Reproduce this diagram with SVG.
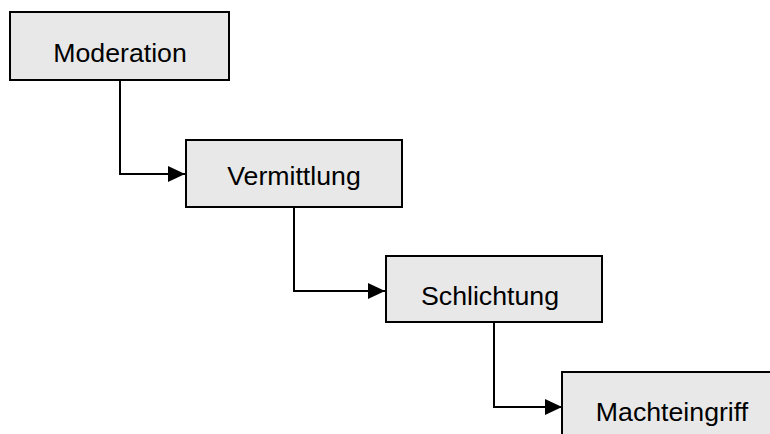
<svg xmlns="http://www.w3.org/2000/svg" width="770" height="434" viewBox="0 0 770 434">
  <style>
    .box { fill: #e8e8e8; stroke: #000; stroke-width: 2; }
    .label { font-family: "Liberation Sans", Arial, sans-serif; font-size: 26.7px; fill: #000; text-anchor: middle; }
    .link { fill: none; stroke: #000; stroke-width: 2; }
  </style>
  <defs>
    <marker id="arrow" markerUnits="userSpaceOnUse" markerWidth="18" markerHeight="16" refX="17" refY="8" orient="auto">
      <path d="M0,0 L17,8 L0,16 Z" fill="#000"/>
    </marker>
  </defs>
  <rect width="770" height="434" fill="#fff"/>

  <g id="connectors">
    <path class="link" d="M120,80 V174 H185" marker-end="url(#arrow)"/>
    <path class="link" d="M294,207 V291 H385" marker-end="url(#arrow)"/>
    <path class="link" d="M494,322 V407 H562" marker-end="url(#arrow)"/>
  </g>

  <g id="moderation">
    <rect class="box" x="10" y="12" width="219" height="68"/>
    <text class="label" x="120" y="62">Moderation</text>
  </g>
  <g id="vermittlung">
    <rect class="box" x="186" y="140" width="216" height="67"/>
    <text class="label" x="294" y="185">Vermittlung</text>
  </g>
  <g id="schlichtung">
    <rect class="box" x="386" y="256" width="216" height="66"/>
    <text class="label" x="490" y="305">Schlichtung</text>
  </g>
  <g id="machteingriff">
    <rect class="box" x="562" y="372" width="216" height="68"/>
    <text class="label" x="672" y="421">Machteingriff</text>
  </g>
</svg>
